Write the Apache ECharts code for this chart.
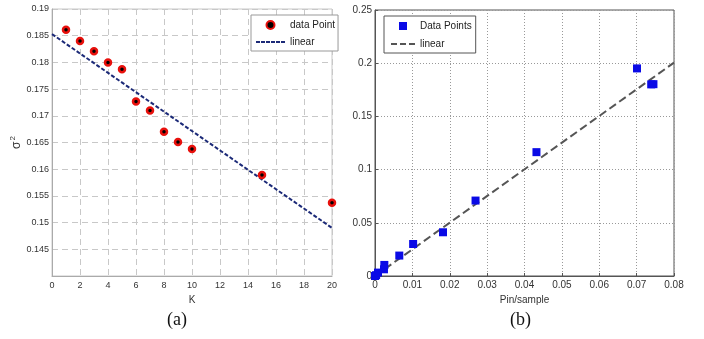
<!DOCTYPE html>
<html>
<head>
<meta charset="utf-8">
<script src="https://cdn.jsdelivr.net/npm/echarts@6/dist/echarts.min.js"></script>
<style>html,body{margin:0;padding:0;background:#fff}#c{width:704px;height:339px}</style>
</head>
<body>
<div id="c"></div>
<script>
// ---- Panel (a) data ----
const kValues = [1, 2, 3, 4, 5, 6, 7, 8, 9, 10, 15, 20];
const sigma2Values = [0.1861, 0.1840, 0.1821, 0.1800, 0.1787, 0.1727, 0.1710, 0.1670, 0.1651, 0.1638, 0.1589, 0.1537];
const fitA_K = [0, 20];
const fitA_sigma2 = [0.1853, 0.1490];
// ---- Panel (b) data ----
const pinValues = [0, 0.0003, 0.0008, 0.0024, 0.0025, 0.0065, 0.0102, 0.0182, 0.0269, 0.0432, 0.0701, 0.0739, 0.0745];
const respValues = [0, 0.0008, 0.0032, 0.0063, 0.0104, 0.0192, 0.0301, 0.0411, 0.0709, 0.1164, 0.1951, 0.1801, 0.1803];
const fitB_x = [0, 0.08];
const fitB_y = [0, 0.2005];

const zip = (a, b) => a.map((v, i) => [v, b[i]]);
const FONT = "'Liberation Sans',Arial,sans-serif";
const fmt = v => String(parseFloat(v.toFixed(4)));
const dashIconA = 'path://M0,0h4v2h-4z M5,0h4v2h-4z M10,0h4v2h-4z M15,0h4v2h-4z M20,0h4v2h-4z M25,0h4v2h-4z';
const dashIconB = 'path://M0,0h6v2h-6z M9,0h6v2h-6z M18,0h6v2h-6z';

const chart = echarts.init(document.getElementById('c'), null, {renderer: 'canvas'});
chart.setOption({
  backgroundColor: '#fff',
  animation: false,
  textStyle: {fontFamily: FONT},
  grid: [
    {left: 52, top: 9, width: 280, height: 267, show: true, borderColor: '#c8c8c8', borderWidth: 1, backgroundColor: 'transparent'},
    {left: 375, top: 10, width: 299, height: 266, show: true, borderColor: '#555', borderWidth: 1, backgroundColor: 'transparent'}
  ],
  xAxis: [
    {gridIndex: 0, type: 'value', min: 0, max: 20, interval: 2,
     name: 'K', nameLocation: 'middle', nameGap: 17,
     nameTextStyle: {fontFamily: FONT, fontSize: 10, color: '#333'},
     axisLine: {show: true, lineStyle: {color: '#aaa'}}, axisTick: {show: false},
     axisLabel: {fontFamily: FONT, fontSize: 9, color: '#333', margin: 5, formatter: fmt},
     splitLine: {show: true, lineStyle: {color: '#c8c8c8', type: [6, 4]}}},
    {gridIndex: 1, type: 'value', min: 0, max: 0.08, interval: 0.01,
     name: 'Pin/sample', nameLocation: 'middle', nameGap: 17,
     nameTextStyle: {fontFamily: FONT, fontSize: 10, color: '#333'},
     axisLine: {show: true, lineStyle: {color: '#555'}}, axisTick: {show: true, inside: true, length: 3, lineStyle: {color: '#555'}},
     axisLabel: {fontFamily: FONT, fontSize: 10, color: '#333', margin: 4, formatter: fmt},
     splitLine: {show: true, lineStyle: {color: '#999', type: [1, 2]}}}
  ],
  yAxis: [
    {gridIndex: 0, type: 'value', min: 0.14, max: 0.19, interval: 0.005,
     name: '{s|σ}{p|2}', nameLocation: 'middle', nameGap: 26, nameRotate: 90,
     nameTextStyle: {fontFamily: FONT, color: '#333',
       rich: {s: {fontSize: 12, fontFamily: FONT, color: '#333'}, p: {fontSize: 8, fontFamily: FONT, color: '#333', padding: [0, 0, 8, 1]}}},
     axisLine: {show: true, lineStyle: {color: '#aaa'}}, axisTick: {show: false},
     axisLabel: {fontFamily: FONT, fontSize: 9, color: '#333', margin: 3,
       formatter: v => (Math.abs(v - 0.14) < 1e-9 ? '' : fmt(v))},
     splitLine: {show: true, lineStyle: {color: '#c8c8c8', type: [6, 4]}}},
    {gridIndex: 1, type: 'value', min: 0, max: 0.25, interval: 0.05,
     axisLine: {show: true, lineStyle: {color: '#555'}}, axisTick: {show: true, inside: true, length: 3, lineStyle: {color: '#555'}},
     axisLabel: {fontFamily: FONT, fontSize: 10, color: '#333', margin: 3, formatter: fmt},
     splitLine: {show: true, lineStyle: {color: '#999', type: [1, 2]}}}
  ],
  legend: [
    {left: 251, top: 15, orient: 'vertical', itemWidth: 29, itemHeight: 8, itemGap: 7,
     padding: [5, 3, 4, 5], borderColor: '#999', borderWidth: 1, backgroundColor: '#fff',
     textStyle: {fontFamily: FONT, fontSize: 10, color: '#222'},
     data: [{name: 'data Point', icon: 'circle'}, {name: 'linear', icon: dashIconA}]},
    {left: 384, top: 16, orient: 'vertical', itemWidth: 24, itemHeight: 8, itemGap: 8,
     padding: [5, 4, 4, 7], borderColor: '#555', borderWidth: 1, backgroundColor: '#fff',
     textStyle: {fontFamily: FONT, fontSize: 10, color: '#222'},
     data: [{name: 'Data Points', icon: 'path://M0,0h10v10h-10z'}, {name: 'linear ', icon: dashIconB}]}
  ],
  series: [
    {name: 'linear', type: 'line', xAxisIndex: 0, yAxisIndex: 0, data: zip(fitA_K, fitA_sigma2),
     showSymbol: false, symbol: 'none', itemStyle: {color: '#1c2a78'},
     lineStyle: {color: '#1c2a78', width: 2, type: [4, 2]}, z: 3},
    {name: 'data Point', type: 'scatter', xAxisIndex: 0, yAxisIndex: 0, data: zip(kValues, sigma2Values),
     symbol: 'circle', symbolSize: 6, itemStyle: {color: '#000', borderColor: '#e8100c', borderWidth: 2.5, opacity: 1}, z: 4},
    {name: 'linear ', type: 'line', xAxisIndex: 1, yAxisIndex: 1, data: zip(fitB_x, fitB_y),
     showSymbol: false, symbol: 'none', itemStyle: {color: '#555'},
     lineStyle: {color: '#555', width: 2, type: [8, 4]}, z: 3},
    {name: 'Data Points', type: 'scatter', xAxisIndex: 1, yAxisIndex: 1, data: zip(pinValues, respValues),
     symbol: 'rect', symbolSize: 8, itemStyle: {color: '#0a0ae6', opacity: 1}, z: 4}
  ],
  graphic: [
    {type: 'text', left: 167, top: 311, style: {text: '(a)', font: "18px 'Liberation Serif','Times New Roman',serif", fill: '#111'}},
    {type: 'text', left: 510, top: 311, style: {text: '(b)', font: "18px 'Liberation Serif','Times New Roman',serif", fill: '#111'}}
  ]
});
</script>
</body>
</html>
